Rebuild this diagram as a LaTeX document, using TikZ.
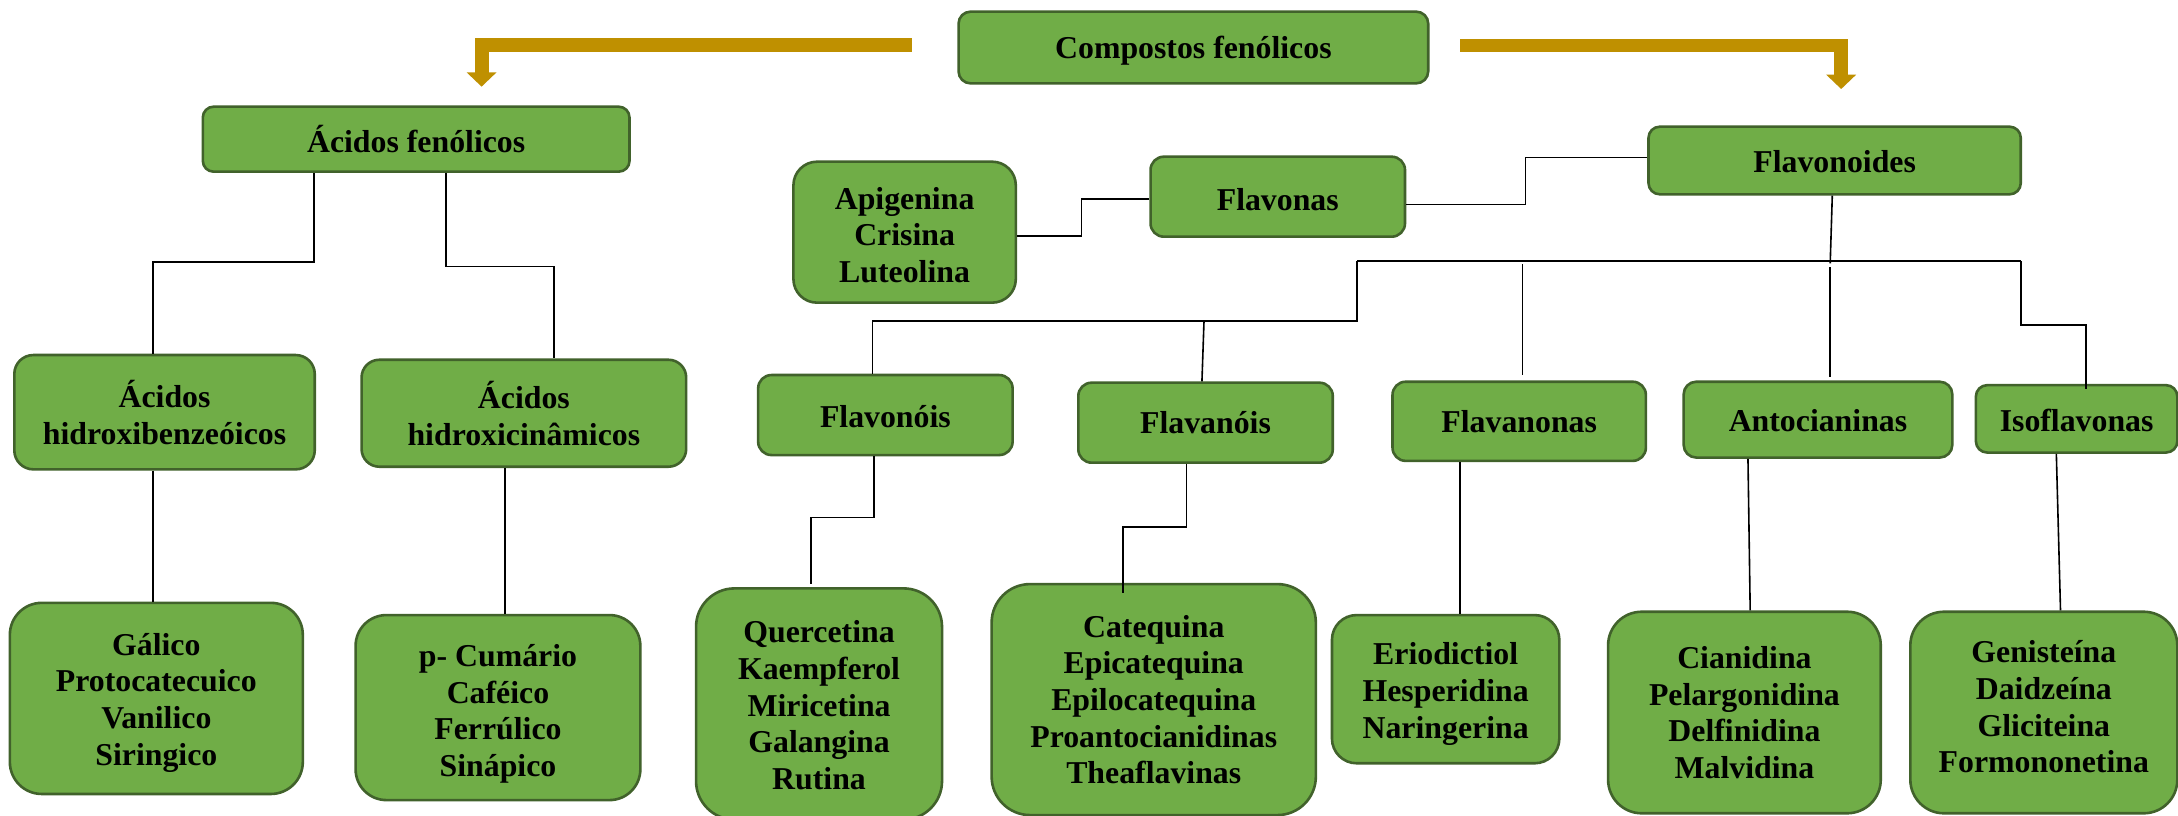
\documentclass[tikz,border=0pt]{standalone}
\usepackage{fontspec}
\setmainfont{Liberation Serif}
\usetikzlibrary{arrows.meta}
\definecolor{leaf}{HTML}{70AD47}
\definecolor{leafedge}{HTML}{41622B}
\definecolor{gold}{HTML}{BF9000}
\newcommand\unitpx{0.6945pt}
\tikzset{
  box/.style={draw=leafedge, fill=leaf, line width=1.3pt, inner sep=0pt},
  boxtext/.style={align=center, inner sep=0pt,
    font=\bfseries\fontsize{15.9}{18.35}\selectfont},
  sz/.style n args={3}{minimum width=#1*\unitpx, minimum height=#2*\unitpx,
    rounded corners=#3*\unitpx},
  link/.style={draw=black, line width=0.8pt},
  goldarrow/.style={draw=gold, line width=6.95pt, line join=miter,
    -{Triangle[width=14.6pt,length=7.2pt]}}
}
% #1 name, #2 #3 centre, #4 #5 size, #6 corner radius, #7 text drop, #8 text
\newcommand\greenbox[8]{%
  \node[box, sz={#4}{#5}{#6}] (#1) at (#2,#3) {};
  \node[boxtext] (#1-txt) at (#2,{#3+#7}) {#8};}
\begin{document}
\begin{tikzpicture}[x=\unitpx, y=-\unitpx]
  \fill[white] (0,0) rectangle (1568,587);
  \useasboundingbox (0,0) rectangle (1568,587);

  % top level
  \greenbox{cf}{859.15}{34.2}{338.1}{51.6}{8.6}{2.5}{Compostos fenólicos}
  \greenbox{af}{299.6}{100.2}{307.2}{46.8}{7.8}{0}{Ácidos fenólicos}
  \greenbox{fld}{1320.8}{115.55}{268}{48.7}{8.1}{1}{Flavonoides}
  \greenbox{flv}{919.9}{141.6}{183.2}{57.6}{9.6}{2}{Flavonas}
  \greenbox{apig}{651.25}{167.15}{160.1}{101.5}{17}{2}{Apigenina\\Crisina\\Luteolina}

  % second level
  \greenbox{hb}{118.45}{296.75}{216.3}{82.3}{13.7}{0}{Ácidos\\hidroxibenzeóicos}
  \greenbox{hc}{377.15}{297.5}{233.7}{77}{12.8}{0}{Ácidos\\hidroxicinâmicos}
  \greenbox{fo}{637.4}{298.8}{183.2}{57.6}{9.6}{1}{Flavonóis}
  \greenbox{fa}{867.9}{304.3}{183.2}{57.6}{9.6}{0}{Flavanóis}
  \greenbox{fn}{1093.7}{303.3}{182.4}{57}{9.5}{0}{Flavanonas}
  \greenbox{an}{1308.8}{302.1}{193.4}{54.6}{9.1}{1}{Antocianinas}
  \greenbox{iso}{1495}{301.55}{145}{48.5}{8.1}{1}{Isoflavonas}

  % compounds
  \greenbox{gal}{112.55}{502.8}{210.9}{137.6}{23}{3}{Gálico\\Protocatecuico\\Vanilico\\Siringico}
  \greenbox{pcu}{358.5}{509.4}{205}{133.2}{22.2}{4.5}{p- Cumário\\Caféico\\Ferrúlico\\Sinápico}
  \greenbox{quer}{589.65}{506.8}{177.1}{166.4}{27.7}{1}{Quercetina\\Kaempferol\\Miricetina\\Galangina\\Rutina}
  \greenbox{cat}{830.6}{503.65}{233.4}{166.3}{27.7}{0}{Catequina\\Epicatequina\\Epilocatequina\\Proantocianidinas\\Theaflavinas}
  \greenbox{erio}{1040.75}{496.15}{163.7}{106.7}{17.8}{3.5}{Eriodictiol\\Hesperidina\\Naringerina}
  \greenbox{cian}{1255.85}{512.95}{196.3}{145.1}{24.2}{0}{Cianidina\\Pelargonidina\\Delfinidina\\Malvidina}
  \greenbox{gen}{1471.4}{512.95}{192.2}{145.1}{24.2}{-4}{Genisteína\\Daidzeína\\Gliciteina\\Formononetina}

  % gold arrows from the root
  \coordinate (tipL) at (346.7,62.4);
  \coordinate (tipR) at (1325.5,64.1);
  \draw[goldarrow, shorten <=22.8pt] (cf.west |- 0,32.6) -| (tipL);
  \draw[goldarrow, shorten <=15.4pt] (cf.east |- 0,32.75) -| (tipR);

  % phenolic acids branch
  \draw[link] (af.south -| 225.9,0) |- (110,188.5) -- (hb.north -| 110,0);
  \draw[link] (af.south -| 321,0) |- (399,192) -- (hc.north -| 399,0);
  \draw[link] (hb.south -| 110,0) -- (gal.north -| 110,0);
  \draw[link] (hc.south -| 363.7,0) -- (pcu.north -| 363.7,0);

  % flavones
  \draw[link] (apig.east |- 0,169.9) -| (778.5,143.3) -- (flv.west |- 0,143.3);
  \draw[link] (flv.east |- 0,147.1) -| (1098.2,113.5) -- (fld.west |- 0,113.5);

  % flavonoid bus
  \coordinate (busL) at (977.1,187.9);
  \coordinate (busR) at (1454.8,187.9);
  \draw[link] (fld.south -| 1319.1,0) -- (1317.6,189.6);
  \draw[link] (busL) -- (busR);
  \draw[link] (busL) |- (628.1,230.9) -- (fo.north -| 628.1,0);
  \draw[link] (866.8,230.9) -- (fa.north -| 865.3,0);
  \draw[link, shorten >=2.5pt] (1096,190.3) -- (fn.north -| 1096,0);
  \draw[link, shorten >=1.5pt] (1317.6,192.5) -- (an.north -| 1317.6,0);
  \draw[link] (busR) |- (1501.9,234) -- (1501.9,280.3);

  % flavonoid subclasses to compounds
  \draw[link] (fo.south -| 629.4,0) |- (583.7,372.7) -- (583.7,420.7);
  \draw[link] (fa.south -| 854.1,0) |- (808.5,379.2) -- (808.5,427.2);
  \draw[link] (fn.south -| 1051.1,0) -- (erio.north -| 1051.1,0);
  \draw[link] (an.south -| 1258.4,0) -- (cian.north -| 1260,0);
  \draw[link] (iso.south -| 1480.4,0) -- (gen.north -| 1483.4,0);
\end{tikzpicture}
\end{document}
